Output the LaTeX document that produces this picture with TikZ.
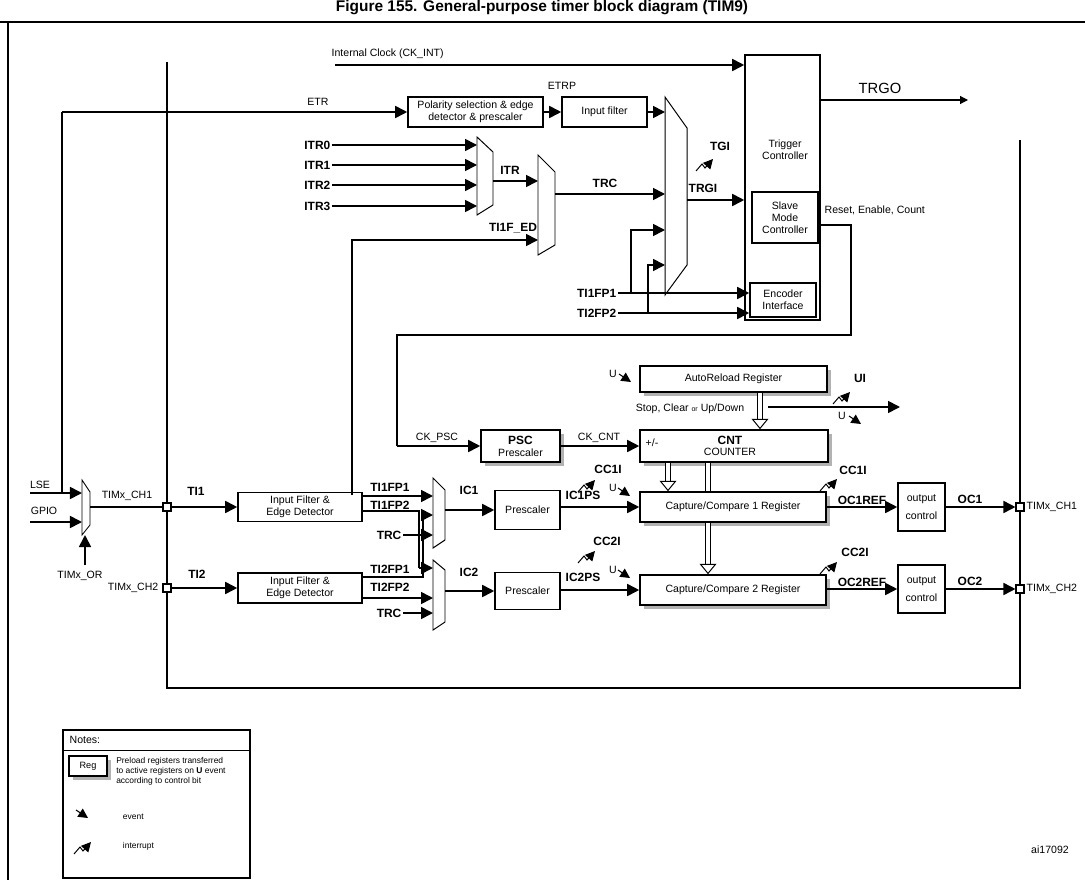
\documentclass[tikz,border=0pt]{standalone}
\usepackage{fontspec}
\setmainfont{Liberation Sans}
\usetikzlibrary{arrows.meta,positioning,shadows}

\newcommand{\sm}{\fontsize{7.5}{8.5}\selectfont}
\newcommand{\bl}{\fontsize{8.5}{9.5}\selectfont\bfseries}

\begin{document}
\begin{tikzpicture}[
  x=0.025cm, y=-0.025cm,
  box/.style={rectangle, draw, line width=1.1pt, font=\sm, align=center,
              inner sep=1pt, fill=white},
  reg/.style={box, general shadow={fill=gray!60, shadow xshift=3pt,
              shadow yshift=-3pt}},
  arr/.style={-{Triangle[length=3mm,width=3mm]}, line width=1.2pt},
  ln/.style={line width=1.2pt},
  hol/.style={double, double distance=3pt, line width=0.7pt,
              -{Triangle[open,length=2.6mm,width=4.2mm]}},
  mux/.style={draw, line width=0.7pt, fill=white},
  lbl/.style={font=\sm, inner sep=1pt},
  blb/.style={font=\bl, inner sep=1pt},
  pin/.style={rectangle, draw, line width=0.8pt, fill=white,
              minimum size=0.2cm, inner sep=0pt},
  evnt/.pic={\draw[-{Triangle[length=2.4mm,width=2.4mm]}, line width=0.7pt]
               (-9,-5) -- (3,3);},
  intr/.pic={\draw[-{Triangle[length=2.4mm,width=2.4mm]}, line width=0.7pt]
               (-12,8) -- (-6,1) -- (-3,5) -- (5,-4);}
]
\useasboundingbox (0,0) rectangle (1085,880);

% frame and title
\node[font=\fontsize{11}{12}\selectfont\bfseries] (title) at (542,8)
  {Figure 155. General-purpose timer block diagram (TIM9)};
\draw[line width=1.4pt] (0,22) -- (1085,22);
\draw[line width=1pt] (8,22) -- (8,880);
\draw[line width=1.4pt] (167,62) -- (167,688) -- (1020,688) -- (1020,140);

% trigger controller
\node[box, minimum width=1.875cm, minimum height=6.625cm] (trig) at (782.5,187.5) {};
\node[lbl, align=center] (trigt) at (785,150) {Trigger\\Controller};
\node[box, minimum width=1.65cm, minimum height=1.275cm] (smc) at (785,217.5)
  {Slave\\Mode\\Controller};
\node[box, minimum width=1.65cm, minimum height=0.85cm] (enc) at (783,300)
  {Encoder\\Interface};

\coordinate (ckint) at (335,65);
\node[lbl, anchor=south west] (ckintt) at (330,60) {Internal Clock (CK\_INT)};
\draw[arr] (ckint) -- (ckint -| trig.west);

\coordinate (trgo) at (968,100);
\node[font=\fontsize{10.5}{11}\selectfont] (trgot) at (880,88) {TRGO};
\draw[-{Triangle[length=2mm,width=2mm]}, line width=0.8pt] (trig.east |- trgo) -- (trgo);

% ETR path
\node[box, minimum width=3.375cm, minimum height=0.75cm] (pol) at (475.5,112)
  {Polarity selection \& edge\\detector \& prescaler};
\node[box, minimum width=2.125cm, minimum height=0.75cm] (filt) at (604.5,112)
  {Input filter};
\node[lbl] (etrt) at (318,102) {ETR};
\node[lbl] (etrpt) at (562,86) {ETRP};
\coordinate (etr) at (62,112);
\draw[arr] (etr) -- (pol.west);
\draw[arr] (pol) -- (filt);
\draw[arr] (filt.east) -- (665,112);

% TRGI multiplexer
\draw[mux] (665,97) -- (687,128) -- (687,265) -- (665,295) -- cycle;
\coordinate (trgi) at (687,200);
\draw[arr] (trgi) -- (trgi -| trig.west);
\node[blb] (trgit) at (703,188) {TRGI};
\pic at (708,163) {intr};
\node[blb] (tgit) at (720,146) {TGI};

% ITR multiplexers
\draw[mux] (477,137) -- (493,152) -- (493,205) -- (477,215) -- cycle;
\draw[mux] (538,155) -- (555,172) -- (555,245) -- (538,255) -- cycle;
\foreach \i/\y in {0/145,1/165,2/185,3/206}{
  \node[blb, anchor=east] (itr\i) at (332,\y) {ITR\i};
  \draw[arr] (itr\i.east) -- (477,\y);
}
\node[blb] (itrt) at (510,170) {ITR};
\draw[arr] (493,181) -- (538,181);
\node[blb] (tedt) at (513,228) {TI1F\_ED};
\coordinate (ted) at (538,240);
\node[blb] (trct) at (605,183) {TRC};
\draw[arr] (555,194) -- (665,194);

\node[blb, anchor=east] (tf1) at (618,293) {TI1FP1};
\node[blb, anchor=east] (tf2) at (618,313) {TI2FP2};
\draw[arr] (tf1.east) -- (tf1.east -| enc.west);
\draw[arr] (tf2.east) -- (tf2.east -| enc.west);
\draw[arr] (631,293) -- (631,230) -- (665,230);
\draw[arr] (648,313) -- (648,265) -- (665,265);

% slave mode output to prescaler
\node[lbl, anchor=west] (rect) at (823,210) {Reset, Enable, Count};
\node[reg, minimum width=1.975cm, minimum height=0.8cm] (psc) at (520.5,446)
  {\bl PSC\\Prescaler};
\draw[ln] (smc.east |- 0,225) -- (851,225) -- (851,335) -- (397,335) -- (397,446);
\draw[arr] (397,446) -- (psc.west);
\node[lbl] (ckpsct) at (437,438) {CK\_PSC};
\node[lbl] (ckcntt) at (599,438) {CK\_CNT};

% counter and auto reload
\node[reg, minimum width=4.7cm, minimum height=0.8cm] (cnt) at (734,446) {};
\node[font=\bl, align=center] (cntt) at (730,446) {CNT\\[-2pt]\normalfont\sm COUNTER};
\node[lbl] (pm) at (652,443) {+/-};
\draw[arr] (psc) -- (cnt);
\node[reg, minimum width=4.675cm, minimum height=0.65cm] (arreg) at (733.5,379)
  {AutoReload Register};
\node[lbl] (u0) at (613,374) {U};
\pic at (628,379) {evnt};
\draw[hol] (arreg.south -| 760,0) -- (cnt.north -| 760,0);
\coordinate (uiout) at (900,407);
\draw[arr] (768,407) -- (uiout);
\node[lbl] (stopt) at (690,409) {Stop, Clear {\fontsize{5}{6}\selectfont or} Up/Down};
\pic at (845,396) {intr};
\node[blb] (uit) at (860,378) {UI};
\node[lbl] (u3) at (842,416) {U};
\pic at (858,421) {evnt};

% input stage
\node[lbl] (lset) at (40,485) {LSE};
\node[lbl] (gpiot) at (44,511) {GPIO};
\draw[arr] (30,493) -- (82,493);
\draw[arr] (30,522) -- (82,522);
\draw[ln] (etr) -- (62,493);
\draw[mux, line width=0.6pt] (82,480) -- (90,492) -- (90,525) -- (82,535) -- cycle;
\draw[arr] (85,565) -- (85,535);
\node[lbl] (timort) at (80,576) {TIMx\_OR};

\node[pin] (ch1in) at (167,507) {};
\node[pin] (ch2in) at (167,588) {};
\draw[ln] (90,507) -- (ch1in);
\node[lbl] (ch1t) at (127,496) {TIMx\_CH1};
\node[lbl, anchor=east] (ch2t) at (160,588) {TIMx\_CH2};

\node[box, minimum width=3.1cm, minimum height=0.725cm] (if1) at (300,507)
  {Input Filter \&\\Edge Detector};
\node[box, minimum width=3.1cm, minimum height=0.75cm] (if2) at (300,588)
  {Input Filter \&\\Edge Detector};
\draw[arr] (ch1in) -- (if1);
\draw[arr] (ch2in) -- (if2);
\node[blb] (ti1t) at (196,491) {TI1};
\node[blb] (ti2t) at (197,574) {TI2};
\draw[arr] (352,495) -- (352,240) -- (ted);

% input muxes
\draw[mux] (433,478) -- (445,490) -- (445,540) -- (433,548) -- cycle;
\draw[mux] (433,560) -- (445,570) -- (445,622) -- (433,630) -- cycle;
\draw[arr] (362,496) -- (433,496);
\draw[ln] (362,511) -- (419,511) -- (419,568);
\draw[arr] (419,568) -- (433,568);
\draw[ln] (362,577) -- (423,577) -- (423,515);
\draw[arr] (423,515) -- (433,515);
\draw[arr] (362,598) -- (433,598);
\node[blb] (t1f1) at (390,487) {TI1FP1};
\node[blb] (t1f2) at (390,505) {TI1FP2};
\node[blb] (t2f1) at (390,569) {TI2FP1};
\node[blb] (t2f2) at (390,587) {TI2FP2};
\node[blb, anchor=east] (trc1) at (403,535) {TRC};
\node[blb, anchor=east] (trc2) at (403,613) {TRC};
\draw[arr] (trc1.east) -- (433,535);
\draw[arr] (trc2.east) -- (433,613);

\node[box, minimum width=1.625cm, minimum height=0.975cm] (pre1) at (527.5,510)
  {Prescaler};
\node[box, minimum width=1.625cm, minimum height=0.925cm] (pre2) at (527.5,591)
  {Prescaler};
\draw[arr] (445,510) -- (pre1.west);
\draw[arr] (445,591) -- (pre2.west);
\node[blb] (ic1t) at (469,490) {IC1};
\node[blb] (ic2t) at (469,572) {IC2};

% capture compare
\node[reg, minimum width=4.65cm, minimum height=0.75cm] (cc1) at (733,507)
  {Capture/Compare 1 Register};
\node[reg, minimum width=4.65cm, minimum height=0.75cm] (cc2) at (733,590)
  {Capture/Compare 2 Register};
\draw[arr] (pre1.east |- cc1) -- (cc1.west);
\draw[arr] (pre2.east |- cc2) -- (cc2.west);
\node[blb] (ic1pt) at (583,495) {IC1PS};
\node[blb] (ic2pt) at (583,577) {IC2PS};
\draw[hol] (cnt.south -| 668,0) -- (cc1.north -| 668,0);
\draw[double, double distance=3pt, line width=0.7pt] (cnt.south -| 708,0) -- (cc1.north -| 708,0);
\draw[hol] (cc1.south -| 708,0) -- (cc2.north -| 708,0);

\pic at (590,484) {intr};
\node[blb] (cc1it) at (608,469) {CC1I};
\node[lbl] (u1) at (613,488) {U};
\pic at (627,493) {evnt};
\pic at (832,483) {intr};
\node[blb] (cc1it2) at (853,470) {CC1I};
\pic at (590,555) {intr};
\node[blb] (cc2it) at (607,541) {CC2I};
\node[lbl] (u2) at (613,570) {U};
\pic at (627,575) {evnt};
\pic at (832,566) {intr};
\node[blb] (cc2it2) at (855,552) {CC2I};

% output stage
\node[box, minimum width=1.175cm, minimum height=1.2cm] (oc1) at (921.5,507)
  {output\\[4pt]control};
\node[box, minimum width=1.175cm, minimum height=1.2cm] (oc2) at (921.5,589)
  {output\\[4pt]control};
\draw[arr] (cc1.east |- oc1) -- (oc1.west);
\draw[arr] (cc2.east |- oc2) -- (oc2.west);
\node[blb] (ocr1) at (862,500) {OC1REF};
\node[blb] (ocr2) at (862,582) {OC2REF};
\node[pin] (ch1out) at (1020,507) {};
\node[pin] (ch2out) at (1020,589) {};
\draw[arr] (oc1) -- (ch1out);
\draw[arr] (oc2) -- (ch2out);
\node[blb] (oc1t) at (970,499) {OC1};
\node[blb] (oc2t) at (970,581) {OC2};
\node[lbl, anchor=west] (ch1o) at (1025,507) {TIMx\_CH1};
\node[lbl, anchor=west] (ch2o) at (1025,589) {TIMx\_CH2};

% notes
\draw[line width=0.9pt] (63,730) rectangle (250,878);
\draw[line width=0.7pt] (63,750) -- (250,750);
\node[lbl, anchor=west] (notes) at (68,740) {Notes:};
\node[reg, minimum width=0.95cm, minimum height=0.5cm, font=\fontsize{6.5}{7}\selectfont] (regn) at (88,766) {Reg};
\node[anchor=north west, align=left, inner sep=0pt, font=\fontsize{6}{7}\selectfont]
  (regt) at (116,757) {Preload registers transferred\\to active registers on \textbf{U} event\\according to control bit};
\pic at (85,815) {evnt};
\node[anchor=west, font=\fontsize{6}{7}\selectfont] (evt) at (118,817) {event};
\pic at (86,846) {intr};
\node[anchor=west, font=\fontsize{6}{7}\selectfont] (itt) at (118,846) {interrupt};
\node[lbl] (ref) at (1050,850) {ai17092};
\end{tikzpicture}
\end{document}
